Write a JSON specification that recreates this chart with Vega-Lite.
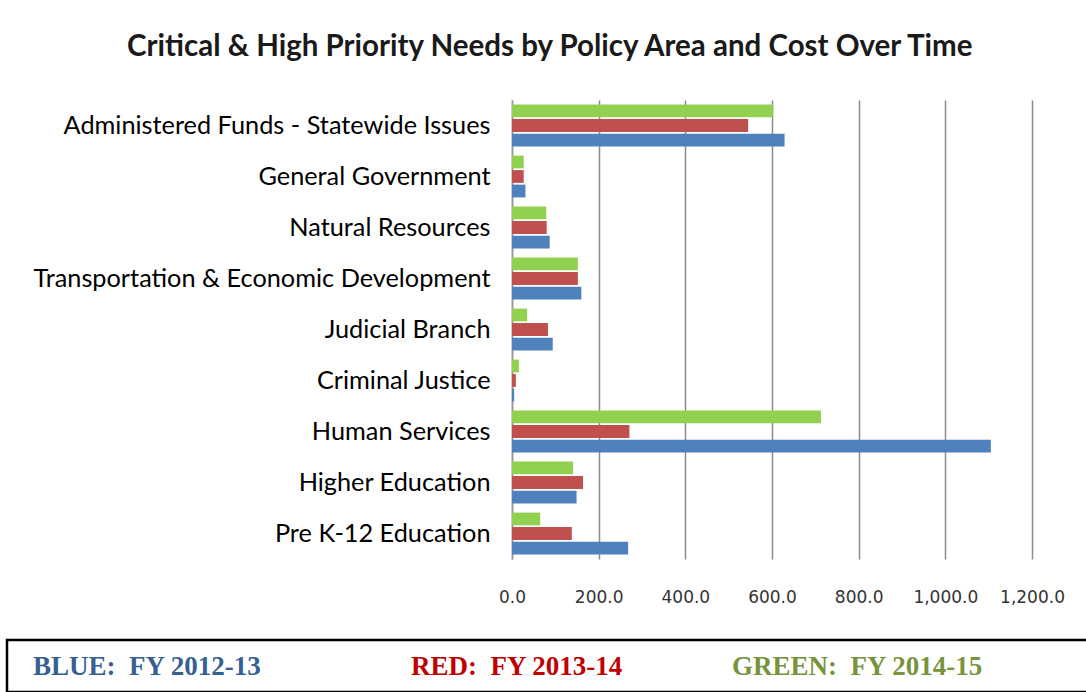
{
  "$schema": "https://vega.github.io/schema/vega-lite/v6.json",
  "autosize": {"type": "none"},
  "width": 520,
  "height": 459,
  "padding": {"left": 512, "top": 100, "right": 54, "bottom": 133},
  "background": "white",
  "title": {
    "text": "Critical & High Priority Needs by Policy Area and Cost Over Time",
    "anchor": "start",
    "frame": "group",
    "dx": -385,
    "offset": 38,
    "font": "Lato",
    "fontSize": 29.5,
    "fontWeight": "bold",
    "color": "#1a1a1a"
  },
  "data": {
    "values": [
      {"area": "Administered Funds - Statewide Issues", "fy": "FY 2012-13", "cost": 629},
      {"area": "Administered Funds - Statewide Issues", "fy": "FY 2013-14", "cost": 545},
      {"area": "Administered Funds - Statewide Issues", "fy": "FY 2014-15", "cost": 603},
      {"area": "General Government", "fy": "FY 2012-13", "cost": 31},
      {"area": "General Government", "fy": "FY 2013-14", "cost": 27},
      {"area": "General Government", "fy": "FY 2014-15", "cost": 27},
      {"area": "Natural Resources", "fy": "FY 2012-13", "cost": 87},
      {"area": "Natural Resources", "fy": "FY 2013-14", "cost": 80},
      {"area": "Natural Resources", "fy": "FY 2014-15", "cost": 79},
      {"area": "Transportation & Economic Development", "fy": "FY 2012-13", "cost": 160},
      {"area": "Transportation & Economic Development", "fy": "FY 2013-14", "cost": 152},
      {"area": "Transportation & Economic Development", "fy": "FY 2014-15", "cost": 152},
      {"area": "Judicial Branch", "fy": "FY 2012-13", "cost": 94},
      {"area": "Judicial Branch", "fy": "FY 2013-14", "cost": 83},
      {"area": "Judicial Branch", "fy": "FY 2014-15", "cost": 35},
      {"area": "Criminal Justice", "fy": "FY 2012-13", "cost": 5},
      {"area": "Criminal Justice", "fy": "FY 2013-14", "cost": 9},
      {"area": "Criminal Justice", "fy": "FY 2014-15", "cost": 16},
      {"area": "Human Services", "fy": "FY 2012-13", "cost": 1105},
      {"area": "Human Services", "fy": "FY 2013-14", "cost": 271},
      {"area": "Human Services", "fy": "FY 2014-15", "cost": 713},
      {"area": "Higher Education", "fy": "FY 2012-13", "cost": 149},
      {"area": "Higher Education", "fy": "FY 2013-14", "cost": 164},
      {"area": "Higher Education", "fy": "FY 2014-15", "cost": 141},
      {"area": "Pre K-12 Education", "fy": "FY 2012-13", "cost": 268},
      {"area": "Pre K-12 Education", "fy": "FY 2013-14", "cost": 138},
      {"area": "Pre K-12 Education", "fy": "FY 2014-15", "cost": 65}
    ]
  },
  "mark": {"type": "bar"},
  "encoding": {
    "y": {
      "field": "area",
      "type": "nominal",
      "sort": null,
      "title": null,
      "scale": {"paddingInner": 0.18, "paddingOuter": 0.09},
      "axis": {
        "labelFont": "Lato",
        "labelFontSize": 25.3,
        "labelColor": "#000000",
        "labelPadding": 22,
        "labelLimit": 600,
        "ticks": false,
        "domainColor": "#999999",
        "domainWidth": 1.5
      }
    },
    "yOffset": {
      "field": "fy",
      "type": "nominal",
      "scale": {"domain": ["FY 2014-15", "FY 2013-14", "FY 2012-13"], "paddingInner": 0.12}
    },
    "x": {
      "field": "cost",
      "type": "quantitative",
      "title": null,
      "scale": {"domain": [0, 1200], "nice": false},
      "axis": {
        "values": [0, 200, 400, 600, 800, 1000, 1200],
        "format": ",.1f",
        "labelFont": "DejaVu Sans",
        "labelFontSize": 17,
        "labelColor": "#333333",
        "labelPadding": 30,
        "labelFlush": false,
        "labelOverlap": false,
        "ticks": false,
        "domain": false,
        "grid": true,
        "gridColor": "#8c8c8c",
        "gridWidth": 1.5
      }
    },
    "color": {
      "field": "fy",
      "type": "nominal",
      "scale": {
        "domain": ["FY 2012-13", "FY 2013-14", "FY 2014-15"],
        "range": ["#4F81BD", "#C0504D", "#92D050"]
      },
      "legend": {
        "title": " ",
        "titleFontSize": 1,
        "titlePadding": 0,
        "orient": "none",
        "legendX": -505,
        "legendY": 540,
        "padding": 12,
        "strokeColor": "#000000",
        "direction": "horizontal",
        "columns": 3,
        "columnPadding": 94,
        "symbolSize": 0,
        "symbolOpacity": 0,
        "symbolStrokeWidth": 0,
        "labelOffset": -13,
        "labelFont": "Liberation Serif",
        "labelFontWeight": "bold",
        "labelFontSize": 27,
        "labelLimit": 800,
        "labelExpr": "datum.value == 'FY 2012-13' ? 'BLUE:\u00a0 FY 2012-13\u00a0\u00a0\u00a0\u00a0\u00a0\u00a0\u200b' : datum.value == 'FY 2013-14' ? 'RED:\u00a0 FY 2013-14' : 'GREEN:\u00a0 FY 2014-15\u00a0\u00a0\u00a0\u00a0\u00a0\u00a0\u00a0\u00a0\u00a0\u00a0\u00a0\u00a0\u00a0\u00a0\u00a0\u00a0\u00a0\u00a0\u200b'",
        "encode": {
          "legend": {
            "update": {
              "stroke": {"value": "#000000"},
              "strokeWidth": {"value": 2.5}
            }
          },
          "labels": {
            "update": {
              "fill": {"signal": "datum.value == 'FY 2012-13' ? '#366092' : datum.value == 'FY 2013-14' ? '#C00000' : '#77933C'"}
            }
          }
        }
      }
    }
  },
  "config": {
    "view": {"stroke": null}
  }
}
